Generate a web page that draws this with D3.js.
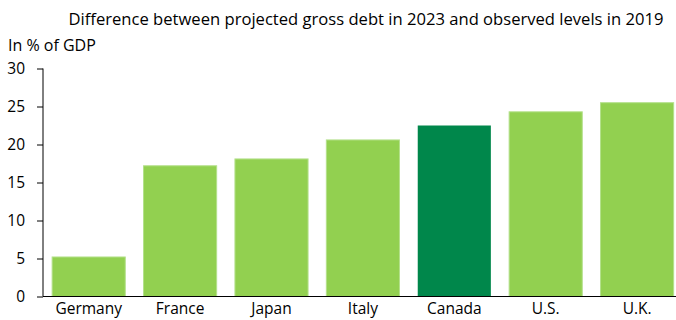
<!DOCTYPE html>
<meta charset="utf-8">
<style>
  body { margin: 0; background: #fff; }
  svg { display: block; font-family: "Open Sans", "Noto Sans", sans-serif; }
  .axis text { fill: #000; font-size: 15.5px; font-family: "Open Sans", "Noto Sans", sans-serif; }
  .axis path, .axis line { stroke: #000; }
</style>
<body>
<div id="viz"></div>
<script src="https://d3js.org/d3.v7.min.js"></script>
<script>
// data
var countries = ['Germany', 'France', 'Japan', 'Italy', 'Canada', 'U.S.', 'U.K.'];
var debtDiff  = [5.2, 17.2, 18.1, 20.6, 22.5, 24.3, 25.5];
var yTicks    = [0, 5, 10, 15, 20, 25, 30];
var highlight = 'Canada';

var width = 676, height = 320;
var x0 = 43, y0 = 296.5, yTop = 68.5;

var svg = d3.select('#viz').append('svg')
    .attr('width', width)
    .attr('height', height);

var xScale = d3.scaleBand()
    .domain(countries)
    .range([x0, x0 + 7 * 91.4])
    .paddingInner(0.2)
    .paddingOuter(0.1);

var yScale = d3.scaleLinear()
    .domain([0, 30])
    .range([y0, yTop]);

// title + unit
svg.append('text')
    .attr('x', 366)
    .attr('y', 25)
    .attr('text-anchor', 'middle')
    .attr('font-size', 16.6)
    .text('Difference between projected gross debt in 2023 and observed levels in 2019');

svg.append('text')
    .attr('x', 8)
    .attr('y', 51)
    .attr('font-size', 16)
    .text('In % of GDP');

// bars
svg.selectAll('rect.bar')
    .data(countries)
    .enter().append('rect')
    .attr('class', 'bar')
    .attr('x', function(d) { return xScale(d); })
    .attr('width', xScale.bandwidth())
    .attr('y', function(d, i) { return yScale(debtDiff[i]); })
    .attr('height', function(d, i) { return y0 - yScale(debtDiff[i]); })
    .attr('fill', function(d) { return d === highlight ? '#00874b' : '#92d050'; })
    .attr('stroke', function(d) { return d === highlight ? 'none' : '#b3e08a'; })
    .attr('stroke-width', 1);

// y axis
svg.append('g')
    .attr('class', 'axis')
    .attr('transform', 'translate(' + x0 + ',0)')
    .call(d3.axisLeft(yScale).tickValues(yTicks).tickSize(6).tickPadding(12).tickSizeOuter(0))
    .call(function(g) { g.select('.domain').attr('d', 'M0,' + yTop + 'V' + y0); });

// x axis
svg.append('g')
    .attr('class', 'axis')
    .attr('transform', 'translate(0,' + y0 + ')')
    .call(d3.axisBottom(xScale).tickSize(0).tickPadding(6))
    .call(function(g) { g.select('.domain').attr('d', 'M' + x0 + ',0H' + width); });
</script>
</body>
